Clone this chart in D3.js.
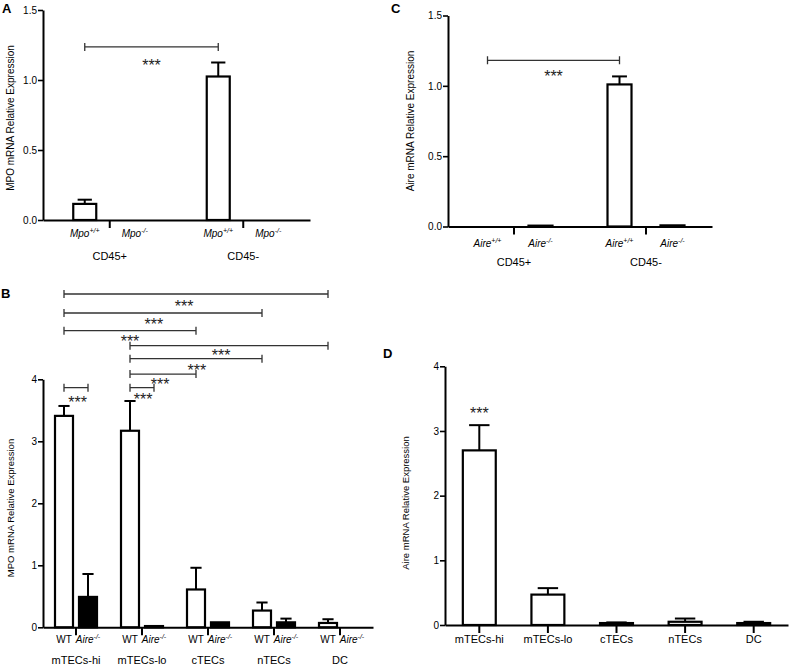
<!DOCTYPE html>
<html>
<head>
<meta charset="utf-8">
<script src="https://cdn.jsdelivr.net/npm/d3@7"></script>
<style>
  body { margin: 0; background: #fff; }
  svg { font-family: Arial, "Liberation Sans", sans-serif; }
</style>
</head>
<body>
<svg id="chart" width="791" height="666"></svg>
<script>
// ---- data ----
// A: MPO in sorted CD45+ / CD45- thymic cells
const cd45Groups = ["CD45+", "CD45-"];
const mpoGenotypes = [["Mpo", "+/+"], ["Mpo", "-/-"]];
const mpoCd45WtMean = [0.115, 1.025];
const mpoCd45WtErr = [0.03, 0.10];
const mpoCd45KoMean = [0, 0];
const mpoCd45KoErr = [0, 0];

// C: Aire in sorted CD45+ / CD45- thymic cells
const aireGenotypes = [["Aire", "+/+"], ["Aire", "-/-"]];
const aireCd45WtMean = [0, 1.01];
const aireCd45WtErr = [0, 0.057];
const aireCd45KoMean = [0.006, 0.008];
const aireCd45KoErr = [0, 0];

// B: MPO in thymic subsets, WT vs Aire-/-
const cellTypes = ["mTECs-hi", "mTECs-lo", "cTECs", "nTECs", "DC"];
const wtKoGenotypes = [["WT", ""], ["Aire", "-/-"]];
const mpoWtMean = [3.41, 3.17, 0.61, 0.27, 0.07];
const mpoWtErr = [0.16, 0.48, 0.35, 0.13, 0.06];
const mpoKoMean = [0.49, 0.02, 0.08, 0.08, 0];
const mpoKoErr = [0.37, 0, 0, 0.06, 0];
// comparisons: [group1, genotype1, group2, genotype2]
const mpoComparisons = [
  ["mTECs-hi", 0, "DC", 0],
  ["mTECs-hi", 0, "nTECs", 0],
  ["mTECs-hi", 0, "cTECs", 0],
  ["mTECs-lo", 0, "DC", 0],
  ["mTECs-lo", 0, "nTECs", 0],
  ["mTECs-lo", 0, "cTECs", 0],
  ["mTECs-lo", 0, "mTECs-lo", 1],
  ["mTECs-hi", 0, "mTECs-hi", 1]
];

// D: Aire in thymic subsets (WT)
const aireMean = [2.70, 0.47, 0.03, 0.05, 0.03];
const aireErr = [0.39, 0.10, 0.01, 0.05, 0.02];

// ---- layout ----
const font = "Arial, 'Liberation Sans', sans-serif";
const svg = d3.select("#chart");

function drawYAxis(y, x0, ticks, fmt) {
  const ax = svg.append("g")
    .attr("transform", "translate(" + x0 + ",0)")
    .call(d3.axisLeft(y).tickValues(ticks).tickFormat(fmt).tickSize(5).tickSizeOuter(0));
  ax.attr("color", "#000");
  ax.select(".domain").attr("stroke-width", 2);
  ax.selectAll(".tick line").attr("stroke-width", 1.6);
  ax.selectAll(".tick text")
    .attr("x", -6)
    .attr("font-size", 10)
    .attr("font-family", font);
}

function drawXAxis(x, y0, labelY) {
  const ax = svg.append("g")
    .attr("transform", "translate(0," + y0 + ")")
    .call(d3.axisBottom(x).tickSize(8).tickSizeOuter(0));
  ax.attr("color", "#000");
  ax.select(".domain").attr("stroke-width", 2);
  ax.selectAll(".tick line").attr("stroke-width", 2);
  ax.selectAll(".tick text")
    .attr("y", labelY)
    .attr("dy", 0)
    .attr("font-size", 11)
    .attr("font-family", font);
}

function yTitle(text, x, y, size) {
  svg.append("text")
    .attr("transform", "translate(" + x + "," + y + ") rotate(-90)")
    .attr("text-anchor", "middle")
    .attr("font-size", size)
    .attr("font-family", font)
    .text(text);
}

function panelLetter(ch, x, y) {
  svg.append("text")
    .attr("x", x).attr("y", y)
    .attr("font-size", 13).attr("font-weight", "bold")
    .attr("font-family", font)
    .text(ch);
}

function genotypeLabel(g, label, x, y) {
  const t = g.append("text")
    .attr("x", x).attr("y", y)
    .attr("text-anchor", "middle")
    .attr("font-size", 10)
    .attr("font-family", font);
  t.append("tspan")
    .attr("font-style", label[1] ? "italic" : "normal")
    .text(label[0]);
  if (label[1]) {
    t.append("tspan")
      .attr("font-size", 7)
      .attr("font-style", "italic")
      .attr("dy", -4)
      .text(label[1]);
  }
}

function drawBar(g, cx, w, y, mean, err, fill) {
  if (mean <= 0) return;
  g.append("rect")
    .attr("x", cx - w / 2)
    .attr("width", w)
    .attr("y", y(mean))
    .attr("height", y(0) - y(mean))
    .attr("fill", fill)
    .attr("stroke", "#000")
    .attr("stroke-width", 2.2);
  if (err > 0) {
    const capW = w * 0.62;
    g.append("line")
      .attr("x1", cx).attr("x2", cx)
      .attr("y1", y(mean)).attr("y2", y(mean + err))
      .attr("stroke", "#000").attr("stroke-width", 2);
    g.append("line")
      .attr("x1", cx - capW / 2).attr("x2", cx + capW / 2)
      .attr("y1", y(mean + err)).attr("y2", y(mean + err))
      .attr("stroke", "#000").attr("stroke-width", 2);
  }
}

function stars(g, x, yy) {
  g.append("text")
    .attr("x", x)
    .attr("y", yy + 9)
    .attr("text-anchor", "middle")
    .attr("font-size", 16)
    .attr("font-family", font)
    .attr("fill", "#222")
    .text("***");
}

function bracket(g, xa, xb, yy, t, dy) {
  g.append("path")
    .attr("d", "M" + xa + "," + (yy - 4) + "V" + (yy + 4) + "M" + xa + "," + yy +
               "H" + xb + "M" + xb + "," + (yy - 4) + "V" + (yy + 4))
    .attr("fill", "none")
    .attr("stroke", "#333")
    .attr("stroke-width", 1.3);
  stars(g, xa + (xb - xa) * t, yy + dy);
}

// grouped two-genotype panel (A, B, C)
function groupedPanel(o) {
  const g = svg.append("g");
  const xg = d3.scaleBand().domain(o.groups).range(o.xRange).paddingInner(0).paddingOuter(0);
  const xs = d3.scaleBand().domain([0, 1]).range([0, xg.bandwidth()])
    .paddingInner(o.pi).paddingOuter(o.po);
  const cx = (grp, k) => xg(grp) + xs(k) + xs.bandwidth() / 2;

  o.groups.forEach((grp, i) => {
    drawBar(g, cx(grp, 0), xs.bandwidth(), o.y, o.wtMean[i], o.wtErr[i], "#fff");
    drawBar(g, cx(grp, 1), xs.bandwidth(), o.y, o.koMean[i], o.koErr[i], o.koFill);
    o.genotypes.forEach((lab, k) => genotypeLabel(g, lab, cx(grp, k), o.y(0) + o.genoDy));
  });

  drawYAxis(o.y, o.xRange[0], o.yTicks, o.yFmt);
  drawXAxis(xg, o.y(0), o.groupDy);
  return { g, cx };
}

// ---- panel A ----
const yA = d3.scaleLinear().domain([0, 1.5]).range([220, 10]);
const pA = groupedPanel({
  groups: cd45Groups, genotypes: mpoGenotypes,
  wtMean: mpoCd45WtMean, wtErr: mpoCd45WtErr,
  koMean: mpoCd45KoMean, koErr: mpoCd45KoErr, koFill: "#fff",
  xRange: [43, 310], pi: 0.54, po: 0.605,
  y: yA, yTicks: [0, 0.5, 1.0, 1.5], yFmt: d3.format(".1f"),
  genoDy: 17, groupDy: 40
});
bracket(pA.g, pA.cx("CD45+", 0), pA.cx("CD45-", 0), yA(1.236), 0.5, 15);
yTitle("MPO mRNA Relative Expression", 14, 118, 10);
panelLetter("A", 2, 13);

// ---- panel C ----
const yC = d3.scaleLinear().domain([0, 1.5]).range([226.5, 15.5]);
const pC = groupedPanel({
  groups: cd45Groups, genotypes: aireGenotypes,
  wtMean: aireCd45WtMean, wtErr: aireCd45WtErr,
  koMean: aireCd45KoMean, koErr: aireCd45KoErr, koFill: "#fff",
  xRange: [448, 712], pi: 0.547, po: 0.519,
  y: yC, yTicks: [0, 0.5, 1.0, 1.5], yFmt: d3.format(".1f"),
  genoDy: 20, groupDy: 39
});
bracket(pC.g, pC.cx("CD45+", 0), pC.cx("CD45-", 0), yC(1.181), 0.5, 12.7);
yTitle("Aire mRNA Relative Expression", 414, 121, 10);
panelLetter("C", 391, 13);

// ---- panel B ----
const yB = d3.scaleLinear().domain([0, 4]).range([627.3, 379.3]);
const pB = groupedPanel({
  groups: cellTypes, genotypes: wtKoGenotypes,
  wtMean: mpoWtMean, wtErr: mpoWtErr,
  koMean: mpoKoMean, koErr: mpoKoErr, koFill: "#000",
  xRange: [43, 373], pi: 0.25, po: 0.5,
  y: yB, yTicks: [0, 1, 2, 3, 4], yFmt: d3.format("d"),
  genoDy: 16, groupDy: 37
});
// bracket heights (axis units) and star placement for each comparison
const bracketLevels = [5.376, 5.069, 4.784, 4.542, 4.332, 4.085, 3.865, 3.865];
const starT = [0.455, 0.454, 0.5, 0.46, 0.506, 0.455, 0.55, 0.57];
const starDy = [9, 8, 7, 6, 8.6, 6.7, 8.3, 11.3];
mpoComparisons.forEach((c, i) => {
  bracket(pB.g, pB.cx(c[0], c[1]), pB.cx(c[2], c[3]), yB(bracketLevels[i]), starT[i], starDy[i]);
});
yTitle("MPO mRNA Relative Expression", 14, 508, 9.5);
panelLetter("B", 1, 298);

// ---- panel D ----
const yD = d3.scaleLinear().domain([0, 4]).range([625, 366.3]);
const xD = d3.scaleBand().domain(cellTypes).range([445, 788]).paddingInner(0.52).paddingOuter(0.26);
const gD = svg.append("g");
cellTypes.forEach((c, i) => {
  drawBar(gD, xD(c) + xD.bandwidth() / 2, xD.bandwidth(), yD, aireMean[i], aireErr[i], "#fff");
});
drawYAxis(yD, 445, [0, 1, 2, 3, 4], d3.format("d"));
drawXAxis(xD, yD(0), 18);
stars(gD, xD("mTECs-hi") + xD.bandwidth() / 2, yD(3.33));
yTitle("Aire mRNA Relative Expression", 409, 503, 9.5);
panelLetter("D", 383, 358);
</script>
</body>
</html>
